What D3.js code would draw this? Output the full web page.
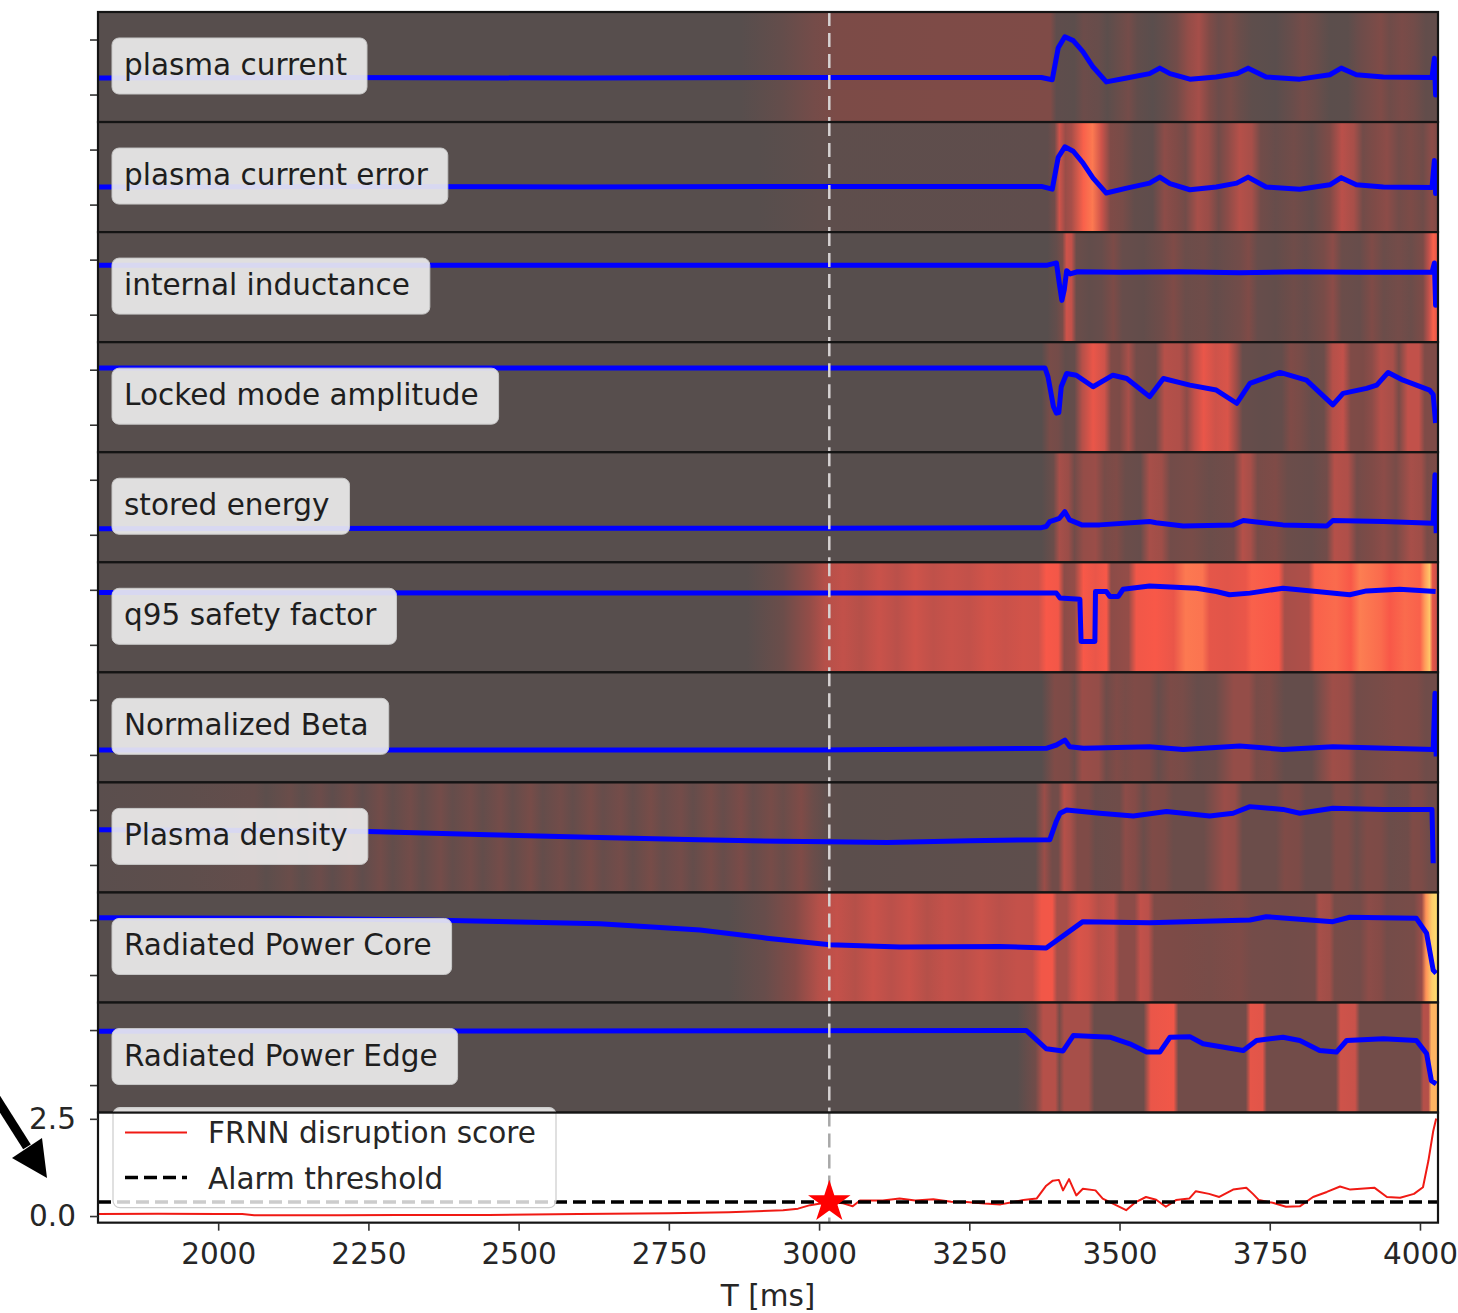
<!DOCTYPE html>
<html>
<head>
<meta charset="utf-8">
<script src="https://cdn.jsdelivr.net/npm/d3@7"></script>
<style>
  body { margin: 0; background: #fff; }
  svg { display: block; }
  text { font-family: "DejaVu Sans", sans-serif; }
</style>
</head>
<body>
<svg id="chart" width="1458" height="1313"></svg>
<script>
// ---- time axis ----
const timeDomain = [1800, 4030];
const timeTicks = [2000, 2250, 2500, 2750, 3000, 3250, 3500, 3750, 4000];
const alarmTime = 3017;          // first crossing of the alarm threshold [ms]
const alarmThreshold = 0.36;
const scoreTicks = [0, 2.5];

const panelLabels = [
  "plasma current", "plasma current error", "internal inductance",
  "Locked mode amplitude", "stored energy", "q95 safety factor",
  "Normalized Beta", "Plasma density", "Radiated Power Core", "Radiated Power Edge"
];

// ---- normalized signals, [t ms, value] ----
const sigPlasmaCurrent = [[1800,0.30],[2200,0.31],[2600,0.30],[3000,0.31],[3370,0.31],[3388,0.27],[3398,0.85],[3409,1.05],[3423,0.98],[3439,0.78],[3456,0.50],[3478,0.23],[3512,0.30],[3550,0.38],[3567,0.48],[3584,0.38],[3617,0.28],[3661,0.32],[3695,0.38],[3714,0.48],[3744,0.32],[3800,0.28],[3850,0.36],[3869,0.48],[3894,0.36],[3939,0.32],[4020,0.31],[4024,0.66],[4026,-0.01],[4028,0.31]];
const sigCurrentError = [[1800,0.32],[2200,0.33],[2600,0.32],[3000,0.33],[3370,0.33],[3388,0.28],[3398,0.86],[3409,1.05],[3423,0.97],[3439,0.76],[3456,0.48],[3478,0.21],[3512,0.30],[3550,0.39],[3567,0.50],[3584,0.38],[3617,0.27],[3661,0.32],[3695,0.39],[3714,0.50],[3744,0.32],[3800,0.28],[3850,0.36],[3869,0.49],[3894,0.36],[3939,0.32],[4020,0.31],[4024,0.80],[4026,0.20],[4028,0.31]];
const sigInductance = [[1800,0.90],[3380,0.90],[3395,0.94],[3400,0.55],[3404,0.26],[3408,0.45],[3412,0.80],[3418,0.74],[3430,0.78],[3500,0.77],[3600,0.78],[3700,0.76],[3800,0.78],[3900,0.77],[4020,0.77],[4024,0.94],[4026,0.17],[4028,0.77]];
const sigLockedMode = [[1800,1.03],[3376,1.03],[3381,0.87],[3390,0.33],[3395,0.21],[3399,0.22],[3403,0.69],[3412,0.93],[3428,0.90],[3456,0.69],[3489,0.90],[3512,0.84],[3550,0.51],[3573,0.84],[3617,0.72],[3661,0.63],[3695,0.39],[3717,0.75],[3767,0.95],[3811,0.81],[3855,0.36],[3872,0.57],[3911,0.66],[3928,0.72],[3947,0.95],[3972,0.81],[4016,0.63],[4022,0.55],[4026,0.03]];
const sigStoredEnergy = [[1800,0.11],[2500,0.12],[3000,0.12],[3370,0.13],[3378,0.15],[3384,0.24],[3400,0.30],[3409,0.42],[3417,0.27],[3437,0.18],[3467,0.18],[3550,0.24],[3561,0.22],[3606,0.16],[3689,0.18],[3706,0.26],[3772,0.18],[3845,0.16],[3855,0.26],[3939,0.24],[4022,0.21],[4025,1.09],[4027,0.03]];
const sigQ95 = [[1800,0.95],[2500,0.94],[3000,0.94],[3395,0.94],[3401,0.85],[3434,0.83],[3436,0.06],[3459,0.06],[3460,0.97],[3478,0.97],[3484,0.88],[3498,0.88],[3506,1.01],[3550,1.07],[3628,1.03],[3661,0.97],[3683,0.91],[3717,0.94],[3772,1.03],[3828,0.97],[3883,0.91],[3911,0.98],[3966,1.01],[4026,0.97]];
const sigBeta = [[1800,0.09],[3000,0.09],[3378,0.12],[3395,0.18],[3409,0.27],[3417,0.15],[3440,0.12],[3550,0.15],[3606,0.10],[3700,0.16],[3772,0.10],[3855,0.15],[4022,0.10],[4025,1.12],[4027,-0.03]];
const sigDensity = [[1800,0.64],[2000,0.63],[2250,0.61],[2450,0.55],[2635,0.50],[2800,0.46],[2935,0.43],[3018,0.42],[3113,0.41],[3250,0.44],[3384,0.46],[3395,0.80],[3401,0.94],[3412,1.00],[3467,0.94],[3523,0.89],[3578,0.97],[3650,0.89],[3689,0.94],[3717,1.06],[3772,1.01],[3800,0.94],[3855,1.03],[3939,1.01],[4020,1.01],[4022,0.03]];
const sigRadCore = [[1800,1.04],[2100,1.03],[2350,1.00],[2635,0.93],[2802,0.82],[2913,0.67],[3018,0.55],[3135,0.51],[3301,0.52],[3378,0.49],[3439,0.97],[3550,0.95],[3717,1.00],[3744,1.06],[3855,0.97],[3883,1.05],[3994,1.03],[4011,0.76],[4022,0.09],[4027,0.03]];
const sigRadEdge = [[1800,0.98],[3345,0.99],[3351,0.93],[3378,0.66],[3406,0.62],[3423,0.90],[3484,0.87],[3517,0.75],[3545,0.60],[3567,0.60],[3584,0.87],[3617,0.88],[3639,0.75],[3706,0.63],[3728,0.81],[3772,0.87],[3800,0.81],[3833,0.63],[3861,0.60],[3878,0.81],[3939,0.84],[3994,0.81],[4011,0.57],[4019,0.08],[4027,0.02]];

// ---- per-signal sensitivity maps, [t ms, importance 0..1] ----
const heatPlasmaCurrent = [[1800,0],[2870,0],[2940,0.1],[2990,0.22],[3030,0.28],[3200,0.29],[3385,0.3],[3395,0.06],[3425,0.04],[3440,0.16],[3465,0.12],[3480,0.04],[3500,0.14],[3515,0.22],[3530,0.08],[3555,0.02],[3575,0.1],[3595,0.2],[3615,0.38],[3632,0.44],[3650,0.3],[3665,0.16],[3685,0.24],[3700,0.14],[3720,0.05],[3760,0.02],[3785,0.12],[3805,0.22],[3825,0.15],[3850,0.03],[3880,0.04],[3900,0.16],[3915,0.22],[3935,0.3],[3950,0.18],[3970,0.26],[3990,0.2],[4010,0.08],[4030,0.1]];
const heatCurrentError = [[1800,0],[2900,0],[3000,0.05],[3380,0.06],[3392,0.2],[3400,0.6],[3410,0.4],[3420,0.45],[3440,0.8],[3455,0.85],[3470,0.6],[3485,0.3],[3505,0.25],[3525,0.08],[3555,0.06],[3575,0.35],[3595,0.3],[3610,0.2],[3630,0.45],[3648,0.4],[3665,0.2],[3680,0.35],[3700,0.5],[3720,0.45],[3735,0.2],[3760,0.12],[3790,0.2],[3820,0.1],[3850,0.3],[3870,0.52],[3890,0.45],[3905,0.2],[3925,0.3],[3945,0.35],[3965,0.2],[3985,0.28],[4005,0.18],[4020,0.35],[4030,0.3]];
const heatInductance = [[1800,0],[3380,0],[3395,0.1],[3405,0.25],[3412,0.6],[3420,0.55],[3428,0.15],[3450,0.08],[3470,0.12],[3490,0.28],[3505,0.12],[3540,0.08],[3570,0.18],[3590,0.3],[3610,0.15],[3640,0.18],[3660,0.1],[3700,0.2],[3715,0.3],[3730,0.12],[3760,0.08],[3790,0.18],[3810,0.12],[3840,0.25],[3855,0.35],[3870,0.15],[3900,0.12],[3920,0.3],[3940,0.15],[3965,0.22],[3985,0.15],[4005,0.28],[4015,0.55],[4022,0.8],[4030,0.7]];
const heatLockedMode = [[1800,0],[3370,0],[3384,0.25],[3398,0.22],[3410,0.08],[3425,0.1],[3438,0.5],[3456,0.72],[3475,0.6],[3486,0.3],[3500,0.28],[3515,0.45],[3528,0.22],[3560,0.18],[3575,0.5],[3600,0.48],[3612,0.35],[3625,0.55],[3640,0.72],[3660,0.6],[3680,0.65],[3695,0.4],[3705,0.12],[3740,0.08],[3770,0.1],[3785,0.3],[3800,0.25],[3820,0.12],[3840,0.15],[3855,0.5],[3872,0.55],[3885,0.3],[3905,0.28],[3920,0.35],[3935,0.5],[3955,0.45],[3965,0.25],[3980,0.55],[3998,0.55],[4008,0.3],[4030,0.3]];
const heatStoredEnergy = [[1800,0],[3370,0],[3390,0.15],[3400,0.45],[3415,0.4],[3425,0.2],[3440,0.38],[3460,0.4],[3475,0.25],[3495,0.3],[3510,0.15],[3535,0.12],[3550,0.45],[3570,0.42],[3585,0.2],[3620,0.25],[3650,0.15],[3690,0.2],[3705,0.5],[3718,0.45],[3730,0.25],[3760,0.3],[3780,0.15],[3820,0.12],[3845,0.2],[3858,0.5],[3880,0.48],[3895,0.22],[3920,0.3],[3940,0.35],[3960,0.25],[3985,0.45],[4002,0.42],[4012,0.25],[4030,0.3]];
const heatQ95 = [[1800,0],[2880,0],[2940,0.15],[2985,0.38],[3010,0.5],[3040,0.55],[3070,0.5],[3100,0.58],[3130,0.52],[3160,0.6],[3190,0.54],[3220,0.58],[3250,0.55],[3280,0.62],[3310,0.58],[3340,0.62],[3365,0.6],[3378,0.78],[3398,0.76],[3408,0.35],[3425,0.38],[3440,0.78],[3460,0.72],[3478,0.78],[3486,0.35],[3515,0.38],[3528,0.75],[3560,0.78],[3590,0.72],[3610,0.85],[3638,0.84],[3650,0.7],[3680,0.68],[3710,0.72],[3720,0.8],[3765,0.78],[3775,0.45],[3815,0.48],[3825,0.8],[3860,0.82],[3885,0.78],[3900,0.86],[3935,0.82],[3950,0.78],[3975,0.82],[4000,0.8],[4008,0.92],[4016,0.97],[4021,0.7],[4030,0.55]];
const heatBeta = [[1800,0],[3370,0],[3392,0.3],[3415,0.28],[3425,0.15],[3438,0.4],[3465,0.38],[3478,0.18],[3495,0.3],[3510,0.25],[3525,0.3],[3550,0.28],[3565,0.12],[3585,0.28],[3605,0.25],[3630,0.12],[3660,0.15],[3690,0.38],[3715,0.38],[3728,0.25],[3750,0.28],[3775,0.1],[3820,0.1],[3855,0.42],[3880,0.4],[3895,0.2],[3930,0.25],[3960,0.3],[3995,0.28],[4010,0.18],[4030,0.2]];
const heatDensity = [[1800,0.02],[1950,0.05],[2060,0.1],[2080,0.04],[2120,0.14],[2140,0.05],[2170,0.16],[2190,0.06],[2220,0.18],[2240,0.07],[2270,0.2],[2290,0.08],[2320,0.2],[2340,0.08],[2370,0.22],[2390,0.1],[2420,0.2],[2440,0.09],[2470,0.22],[2490,0.1],[2520,0.24],[2540,0.1],[2570,0.2],[2590,0.1],[2620,0.24],[2640,0.12],[2670,0.22],[2690,0.1],[2720,0.24],[2740,0.12],[2770,0.22],[2790,0.1],[2820,0.24],[2840,0.12],[2870,0.26],[2890,0.12],[2920,0.24],[2940,0.14],[2970,0.3],[2990,0.15],[3012,0.05],[3040,0.03],[3360,0.05],[3375,0.4],[3388,0.2],[3398,0.2],[3408,0.5],[3418,0.45],[3430,0.3],[3448,0.3],[3460,0.15],[3500,0.18],[3510,0.35],[3526,0.32],[3540,0.15],[3555,0.3],[3575,0.28],[3590,0.15],[3640,0.15],[3675,0.4],[3692,0.38],[3705,0.15],[3760,0.15],[3775,0.3],[3798,0.28],[3810,0.15],[3850,0.15],[3860,0.3],[3880,0.3],[3895,0.15],[3912,0.3],[3935,0.28],[3950,0.15],[3980,0.18],[3988,0.3],[4003,0.28],[4015,0.18],[4030,0.2]];
const heatRadCore = [[1800,0],[2850,0],[2910,0.12],[2960,0.32],[3000,0.5],[3030,0.56],[3060,0.5],[3090,0.58],[3120,0.52],[3150,0.58],[3180,0.5],[3210,0.56],[3240,0.52],[3270,0.58],[3300,0.52],[3330,0.56],[3355,0.55],[3370,0.75],[3388,0.76],[3396,0.45],[3412,0.45],[3420,0.55],[3432,0.65],[3448,0.62],[3465,0.5],[3490,0.55],[3500,0.35],[3525,0.35],[3535,0.55],[3548,0.52],[3558,0.3],[3600,0.28],[3650,0.25],[3700,0.3],[3720,0.22],[3780,0.2],[3825,0.22],[3832,0.45],[3850,0.42],[3858,0.25],[3900,0.22],[3915,0.35],[3935,0.32],[3945,0.22],[3990,0.25],[4003,0.4],[4010,0.9],[4020,0.98],[4030,1.0]];
const heatRadEdge = [[1800,0],[3330,0],[3360,0.2],[3373,0.5],[3393,0.5],[3400,0.25],[3408,0.45],[3448,0.45],[3458,0.15],[3540,0.15],[3552,0.72],[3590,0.75],[3598,0.2],[3710,0.2],[3718,0.7],[3738,0.68],[3745,0.2],[3860,0.2],[3868,0.6],[3892,0.58],[3900,0.2],[4000,0.2],[4006,0.5],[4014,0.5],[4019,0.95],[4030,0.95]];

// ---- FRNN disruption score, [t ms, score] ----
const disruptionScore = [[1800,0.05],[1900,0.06],[2000,0.05],[2040,0.05],[2060,0.02],[2200,0.02],[2300,0.03],[2450,0.03],[2600,0.05],[2750,0.07],[2850,0.10],[2940,0.15],[2965,0.19],[2985,0.28],[3005,0.33],[3017,0.36],[3040,0.33],[3056,0.25],[3068,0.40],[3106,0.40],[3134,0.45],[3160,0.40],[3190,0.43],[3220,0.37],[3245,0.36],[3275,0.32],[3302,0.30],[3340,0.41],[3362,0.45],[3378,0.78],[3389,0.91],[3399,0.93],[3406,0.66],[3416,0.95],[3428,0.53],[3439,0.70],[3460,0.66],[3472,0.45],[3489,0.32],[3511,0.15],[3527,0.36],[3544,0.49],[3561,0.42],[3577,0.24],[3594,0.41],[3616,0.45],[3627,0.64],[3649,0.57],[3666,0.49],[3689,0.68],[3711,0.73],[3722,0.57],[3732,0.41],[3755,0.34],[3777,0.24],[3800,0.25],[3822,0.49],[3845,0.62],[3867,0.76],[3884,0.68],[3924,0.73],[3945,0.49],[3967,0.47],[3990,0.57],[4005,0.74],[4014,1.42],[4022,2.18],[4027,2.51]];

const signals = [sigPlasmaCurrent, sigCurrentError, sigInductance, sigLockedMode, sigStoredEnergy, sigQ95, sigBeta, sigDensity, sigRadCore, sigRadEdge];
const heats = [heatPlasmaCurrent, heatCurrentError, heatInductance, heatLockedMode, heatStoredEnergy, heatQ95, heatBeta, heatDensity, heatRadCore, heatRadEdge];

// ---- layout ----
const W = 1458, H = 1313;
const plotLeft = 98, plotRight = 1438, plotTop = 12;
const panelH = 110.06;
const fontSize = 29.5;
const textColor = "#262626";

const svg = d3.select("#chart");
const defs = svg.append("defs");
svg.append("rect").attr("width", W).attr("height", H).attr("fill", "#fff");

const x = d3.scaleLinear().domain(timeDomain).range([plotLeft, plotRight]);
const heatColor = d3.scaleLinear()
  .domain([0, 0.3, 0.55, 0.78, 0.92, 1])
  .range(["#574e4d", "#7f4b47", "#c2514a", "#f85848", "#ff9a5a", "#ffe070"])
  .clamp(true);

const lineGen = (xs, ys) => d3.line().x(d => xs(d[0])).y(d => ys(d[1]));

// ---- signal panels ----
signals.forEach((sig, i) => {
  const y0 = plotTop + i * panelH;
  const y = d3.scaleLinear().domain([-0.5, 1.5]).range([y0 + panelH, y0]);
  const g = svg.append("g").attr("class", "panel");

  const clipId = "clip" + i;
  defs.append("clipPath").attr("id", clipId)
    .append("rect").attr("x", plotLeft).attr("y", y0).attr("width", plotRight - plotLeft).attr("height", panelH);

  const gradId = "heat" + i;
  const grad = defs.append("linearGradient").attr("id", gradId)
    .attr("gradientUnits", "userSpaceOnUse")
    .attr("x1", plotLeft).attr("x2", plotRight).attr("y1", 0).attr("y2", 0);
  heats[i].forEach(([t, v]) => {
    grad.append("stop")
      .attr("offset", (x(t) - plotLeft) / (plotRight - plotLeft))
      .attr("stop-color", heatColor(v));
  });

  g.append("rect")
    .attr("x", plotLeft).attr("y", y0).attr("width", plotRight - plotLeft).attr("height", panelH)
    .attr("fill", `url(#${gradId})`);

  g.append("path").datum(sig)
    .attr("clip-path", `url(#${clipId})`)
    .attr("d", lineGen(x, y))
    .attr("fill", "none").attr("stroke", "#0000ff")
    .attr("stroke-width", 5).attr("stroke-linejoin", "round");

  // alarm time marker
  g.append("line")
    .attr("x1", x(alarmTime)).attr("x2", x(alarmTime))
    .attr("y1", y0).attr("y2", y0 + panelH)
    .attr("stroke", "#d6d2d2").attr("stroke-width", 2.5)
    .attr("stroke-dasharray", "14,7");

  // unlabeled y ticks
  const ax = g.append("g").attr("transform", `translate(${plotLeft},0)`)
    .call(d3.axisLeft(y).tickValues([0, 1]).tickFormat("").tickSize(8).tickSizeOuter(0));
  ax.select(".domain").remove();
  ax.selectAll("line").attr("stroke", "#333").attr("stroke-width", 1.6);

  // label box
  const lab = g.append("g");
  const txt = lab.append("text")
    .attr("x", 124).attr("y", y0 + 63)
    .attr("font-size", fontSize).attr("fill", "#1e1e1e")
    .text(panelLabels[i]);
  const tw = txt.node().getComputedTextLength();
  lab.insert("rect", "text")
    .attr("x", 112).attr("y", y0 + 26).attr("width", tw + 32).attr("height", 56)
    .attr("rx", 7).attr("fill", "#f0f0f0").attr("fill-opacity", 0.9)
    .attr("stroke", "#c8c8c8").attr("stroke-width", 1);

  g.append("rect")
    .attr("x", plotLeft).attr("y", y0).attr("width", plotRight - plotLeft).attr("height", panelH)
    .attr("fill", "none").attr("stroke", "#141414").attr("stroke-width", 2.2);
});

// ---- disruption score panel ----
const sy0 = plotTop + 10 * panelH;
const yS = d3.scaleLinear().domain([-0.17, 2.66]).range([sy0 + panelH, sy0]);
const gs = svg.append("g");
defs.append("clipPath").attr("id", "clipScore")
  .append("rect").attr("x", plotLeft).attr("y", sy0).attr("width", plotRight - plotLeft).attr("height", panelH);

gs.append("rect").attr("x", plotLeft).attr("y", sy0).attr("width", plotRight - plotLeft).attr("height", panelH).attr("fill", "#fff");

gs.append("line")
  .attr("x1", x(alarmTime)).attr("x2", x(alarmTime))
  .attr("y1", sy0).attr("y2", sy0 + panelH)
  .attr("stroke", "#a8a8a8").attr("stroke-width", 2.5)
  .attr("stroke-dasharray", "14,7");

gs.append("path").datum(disruptionScore)
  .attr("clip-path", "url(#clipScore)")
  .attr("d", lineGen(x, yS))
  .attr("fill", "none").attr("stroke", "#f01a14").attr("stroke-width", 2)
  .attr("stroke-linejoin", "round");

gs.append("line")
  .attr("x1", plotLeft).attr("x2", plotRight)
  .attr("y1", yS(alarmThreshold)).attr("y2", yS(alarmThreshold))
  .attr("stroke", "#000").attr("stroke-width", 3.5).attr("stroke-dasharray", "13,6");

gs.append("path")
  .attr("d", d3.symbol(d3.symbolStar).size(560)())
  .attr("transform", `translate(${x(alarmTime)},${yS(alarmThreshold)})`)
  .attr("fill", "#ff0000");

// legend
const lg = gs.append("g");
lg.append("rect").attr("x", 113).attr("y", sy0 - 5).attr("width", 443).attr("height", 100)
  .attr("rx", 7).attr("fill", "#fff").attr("fill-opacity", 0.8)
  .attr("stroke", "#cccccc").attr("stroke-width", 1.2);
lg.append("line").attr("x1", 125).attr("x2", 187).attr("y1", sy0 + 20).attr("y2", sy0 + 20)
  .attr("stroke", "#f01a14").attr("stroke-width", 2);
lg.append("text").attr("x", 208).attr("y", sy0 + 30).attr("font-size", fontSize).attr("fill", textColor)
  .text("FRNN disruption score");
lg.append("line").attr("x1", 125).attr("x2", 187).attr("y1", sy0 + 65).attr("y2", sy0 + 65)
  .attr("stroke", "#000").attr("stroke-width", 3.5).attr("stroke-dasharray", "13,6");
lg.append("text").attr("x", 208).attr("y", sy0 + 76).attr("font-size", fontSize).attr("fill", textColor)
  .text("Alarm threshold");

gs.append("rect").attr("x", plotLeft).attr("y", sy0).attr("width", plotRight - plotLeft).attr("height", panelH)
  .attr("fill", "none").attr("stroke", "#141414").attr("stroke-width", 2.2);

// score axis
const ay = gs.append("g").attr("transform", `translate(${plotLeft},0)`)
  .call(d3.axisLeft(yS).tickValues(scoreTicks).tickFormat(d3.format(".1f")).tickSize(8).tickPadding(14).tickSizeOuter(0));
ay.select(".domain").remove();
ay.selectAll("line").attr("stroke", "#333").attr("stroke-width", 1.6);
ay.selectAll("text").attr("font-size", fontSize).attr("font-family", "DejaVu Sans").attr("fill", textColor);

// time axis
const axisY = sy0 + panelH;
const axb = svg.append("g").attr("transform", `translate(0,${axisY})`)
  .call(d3.axisBottom(x).tickValues(timeTicks).tickFormat(d3.format("d")).tickSize(8).tickPadding(12).tickSizeOuter(0));
axb.select(".domain").remove();
axb.selectAll("line").attr("stroke", "#333").attr("stroke-width", 1.6);
axb.selectAll("text").attr("font-size", fontSize).attr("font-family", "DejaVu Sans").attr("fill", textColor);

svg.append("text")
  .attr("x", (plotLeft + plotRight) / 2).attr("y", 1306)
  .attr("text-anchor", "middle").attr("font-size", fontSize).attr("fill", textColor)
  .text("T [ms]");

// pointer arrow toward the score axis
const tipX = plotLeft - 51, tipY = yS(0.98);
svg.append("line")
  .attr("x1", tipX - 75).attr("y1", tipY - 118)
  .attr("x2", tipX - 20).attr("y2", tipY - 31)
  .attr("stroke", "#000").attr("stroke-width", 9);
svg.append("path")
  .attr("d", `M${tipX},${tipY} L${tipX - 35},${tipY - 20} L${tipX - 5},${tipY - 40} Z`)
  .attr("fill", "#000");
</script>
</body>
</html>
